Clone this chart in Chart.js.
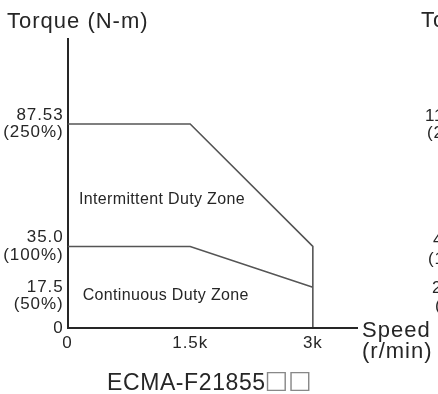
<!DOCTYPE html>
<html>
<head>
<meta charset="utf-8">
<script src="https://cdn.jsdelivr.net/npm/chart.js@4"></script>
<style>
  html, body { margin: 0; padding: 0; background: #fff; overflow: hidden; }
  #wrap { position: relative; width: 438px; height: 394px; }
</style>
</head>
<body>
<div id="wrap"><canvas id="torqueChart" width="438" height="394"></canvas></div>
<script>
const speedTicks = [0, 1500, 3000];
const speedTickLabels = ["0", "1.5k", "3k"];
const torqueTicks = [0, 17.5, 35.0, 87.53];
const torqueTickLabels = [["0"], ["", "17.5", "(50%)"], ["35.0", "(100%)"], ["87.53", "(250%)"]];

const intermittentSpeed = [0, 1500, 3000, 3000];
const intermittentTorque = [87.53, 87.53, 35.0, 0];
const continuousSpeed = [0, 1500, 3000];
const continuousTorque = [35.0, 35.0, 17.5];

const zoneNames = ["Intermittent Duty Zone", "Continuous Duty Zone"];
const zoneSpeed = [140, 185];
const zoneTorque = [53.2, 12.0];

const modelName = "ECMA-F21855";
const modelSuffix = "\u25A1\u25A1";
// next chart in the sheet, cut off at the right edge
const neighbourTexts = ["Torque (N-m)", "119.36", "(250%)", "47.74", "(100%)", "23.87", "(50%)"];

const ink = "#262626";
const curve = "#555";
const fontFamily = "Arial, 'Liberation Sans', Helvetica, sans-serif";
Chart.defaults.font.family = fontFamily;
Chart.defaults.color = ink;

function pairs(xs, ys) {
  return xs.map((x, i) => ({ x, y: ys[i] }));
}

const textPlugin = {
  id: "texts",
  beforeDraw(chart) {
    // the printed sheet uses a loosely tracked sans
    chart.ctx.letterSpacing = "0.9px";
  },
  afterDraw(chart) {
    const ctx = chart.ctx;
    const xs = chart.scales.x;
    const ys = chart.scales.y;
    ctx.save();
    ctx.fillStyle = ink;
    ctx.textAlign = "left";
    ctx.textBaseline = "alphabetic";

    ctx.letterSpacing = "1px";
    ctx.font = `22px ${fontFamily}`;
    ctx.fillText("Torque (N-m)", 7, 28);
    ctx.fillText("Speed", 362, 337);
    ctx.fillText("(r/min)", 362, 358);

    ctx.letterSpacing = "0.35px";
    ctx.font = `16px ${fontFamily}`;
    zoneNames.forEach((name, i) => {
      ctx.fillText(name, xs.getPixelForValue(zoneSpeed[i]), ys.getPixelForValue(zoneTorque[i]));
    });

    ctx.letterSpacing = "0.6px";
    ctx.font = `23px ${fontFamily}`;
    ctx.fillText(modelName, 107, 390);
    const w = ctx.measureText(modelName).width;
    ctx.letterSpacing = "0px";
    ctx.fillStyle = "#888";
    ctx.font = `25px 'DejaVu Sans', sans-serif`;
    ctx.fillText(modelSuffix, 107 + w - 1, 388);
    ctx.fillStyle = ink;

    ctx.letterSpacing = "1px";
    ctx.font = `22px ${fontFamily}`;
    ctx.fillText(neighbourTexts[0], 421, 27);
    ctx.letterSpacing = "0.9px";
    ctx.font = `17px ${fontFamily}`;
    ctx.fillText(neighbourTexts[1], 425, 121);
    ctx.fillText(neighbourTexts[2], 427, 138);
    ctx.fillText(neighbourTexts[3], 433, 245);
    ctx.fillText(neighbourTexts[4], 428, 264);
    ctx.fillText(neighbourTexts[5], 432, 293);
    ctx.fillText(neighbourTexts[6], 435, 311);

    // x axis runs on past the plot to the Speed label
    ctx.strokeStyle = ink;
    ctx.lineWidth = 2;
    ctx.beginPath();
    ctx.moveTo(xs.left, ys.bottom);
    ctx.lineTo(xs.right, ys.bottom);
    ctx.stroke();
    ctx.restore();
  }
};

new Chart(document.getElementById("torqueChart"), {
  type: "scatter",
  data: {
    datasets: [
      {
        label: "Intermittent",
        data: pairs(intermittentSpeed, intermittentTorque),
        showLine: true,
        borderColor: curve,
        borderWidth: 1.6,
        pointRadius: 0,
        tension: 0
      },
      {
        label: "Continuous",
        data: pairs(continuousSpeed, continuousTorque),
        showLine: true,
        borderColor: curve,
        borderWidth: 1.6,
        pointRadius: 0,
        tension: 0
      }
    ]
  },
  options: {
    responsive: false,
    animation: false,
    events: [],
    layout: { padding: { top: 39, right: 81, bottom: 0, left: 0 } },
    plugins: { legend: { display: false }, tooltip: { enabled: false } },
    scales: {
      x: {
        type: "linear",
        min: 0,
        max: 3540,
        afterBuildTicks: scale => { scale.ticks = speedTicks.map(v => ({ value: v })); },
        afterFit: scale => { scale.height = 66; },
        grid: { display: false, drawTicks: false },
        border: { display: true, color: ink, width: 2 },
        ticks: {
          padding: 5,
          font: { size: 17 },
          color: ink,
          maxRotation: 0,
          callback: value => speedTickLabels[speedTicks.indexOf(value)]
        }
      },
      y: {
        type: "linear",
        min: 0,
        max: 124,
        afterBuildTicks: scale => { scale.ticks = torqueTicks.map(v => ({ value: v })); },
        afterFit: scale => { scale.width = 67.5; },
        grid: { display: false, drawTicks: false },
        border: { display: true, color: ink, width: 2 },
        ticks: {
          padding: 4,
          font: { size: 17, lineHeight: 1.02 },
          color: ink,
          callback: value => torqueTickLabels[torqueTicks.indexOf(value)]
        }
      }
    }
  },
  plugins: [textPlugin]
});
</script>
</body>
</html>
